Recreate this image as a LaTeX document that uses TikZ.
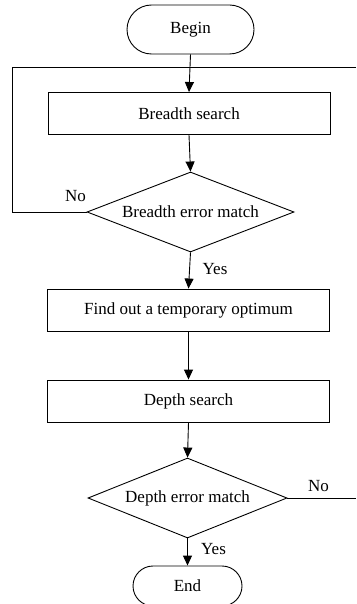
\documentclass[tikz,border=0pt]{standalone}
\usepackage{fontspec}
\setmainfont{Liberation Serif}
\usetikzlibrary{shapes.misc,shapes.geometric,arrows.meta}
\begin{document}
\begin{tikzpicture}[x=1pt,y=-1pt,
  every node/.style={font=\fontsize{17}{20}\selectfont},
  line/.style={line width=0.9pt},
  arr/.style={line width=0.9pt,-{Triangle[width=9pt,length=10pt]}},
  terminal/.style={draw,line width=0.9pt,rounded rectangle,inner sep=0pt},
  process/.style={draw,line width=0.9pt,rectangle,inner sep=0pt,minimum width=282pt,minimum height=42pt},
  decision/.style={draw,line width=0.9pt,diamond,inner sep=0pt,minimum height=80pt}]
\useasboundingbox (0,0) rectangle (356,604);

% flow elements
\node[terminal,minimum width=127pt,minimum height=49pt] (begin) at (190.5,29.5) {Begin};
\node[process] (bsearch) at (189,113.5) {Breadth search};
\node[decision,minimum width=207pt,aspect=2.6] (bmatch) at (190.5,212) {Breadth error match};
\node[process] (optimum) at (188.5,310) {Find out a temporary optimum};
\node[process] (dsearch) at (188.5,401) {Depth search};
\node[decision,minimum width=199pt,aspect=2.5] (dmatch) at (187.5,498) {Depth error match};
\node[terminal,minimum width=109pt,minimum height=40pt] (end) at (187.5,586) {End};

% loop corners and open ends
\coordinate (join) at (190,67);
\coordinate (loopleftlow) at (12,212);
\coordinate (looplefttop) at (12,67);
\coordinate (rightin) at (356,67);
\coordinate (rightout) at (356,498);

% connectors
\draw[arr] (begin.south) -- (bsearch.north);
\draw[arr] (bsearch.south) -- (bmatch.north);
\draw[arr] (bmatch.south) -- (optimum.north);
\draw[arr] (optimum.south) -- (dsearch.north);
\draw[arr] (dsearch.south) -- (dmatch.north);
\draw[arr] (dmatch.south) -- (end.north);
\draw[line] (bmatch.west) -- (loopleftlow) -- (looplefttop) -- (join);
\draw[line] (rightin) -- (join);
\draw[line] (dmatch.east) -- (rightout);

% branch labels
\node (no1) at (75.5,196) {No};
\node (yes1) at (215,269) {Yes};
\node (no2) at (318.5,486) {No};
\node (yes2) at (213.5,549) {Yes};
\end{tikzpicture}
\end{document}
